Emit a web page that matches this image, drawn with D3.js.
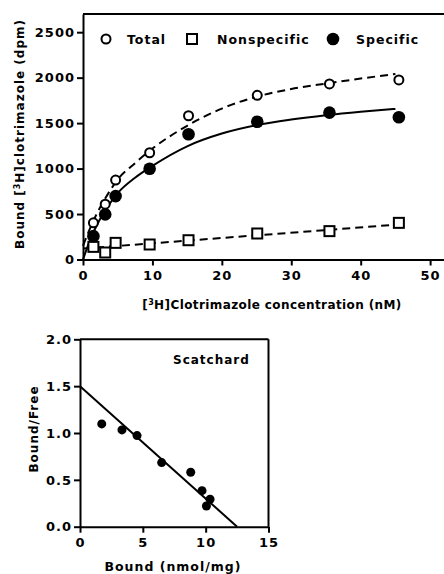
<!DOCTYPE html>
<html>
<head>
<meta charset="utf-8">
<script src="https://cdn.jsdelivr.net/npm/d3@7"></script>
<style>
  body { margin: 0; background: #fff; }
  text { font-family: 'DejaVu Sans', Verdana, sans-serif; font-weight: bold; letter-spacing: 1px; }
</style>
</head>
<body>
<div id="chart"></div>
<script>
// saturation binding data (x in nM, y in dpm)
const conc = [1.5, 3.2, 4.7, 9.6, 15.2, 25.1, 35.5, 45.5]
const total = [403, 609, 873, 1174, 1581, 1806, 1931, 1975]
const nonspecific = [139, 77, 183, 165, 212, 286, 312, 403]
const specific = [257, 496, 697, 998, 1377, 1515, 1615, 1564]

// fitted curves
const fitX = [0, 1, 2, 3, 4, 5, 7.5, 10, 15, 20, 25, 30, 35, 40, 45]
const totalFit = [150, 340, 505, 645, 770, 880, 1060, 1220, 1470, 1660, 1790, 1875, 1935, 1990, 2040]
const specificFit = [0, 210, 380, 515, 630, 730, 900, 1030, 1245, 1385, 1477, 1539, 1587, 1625, 1656]
const nsFitX = [0, 45.5]
const nsFit = [120, 385]

// scatchard
const bound = [1.73, 3.34, 4.54, 6.5, 8.81, 9.71, 10.35, 10.06]
const boundFree = [1.097, 1.033, 0.972, 0.684, 0.581, 0.385, 0.293, 0.221]
const scatLineX = [0, 12.5]
const scatLineY = [1.5, 0]

const xTicksTop = [0, 10, 20, 30, 40, 50]
const yTicksTop = [0, 500, 1000, 1500, 2000, 2500]
const xTicksBot = [0, 5, 10, 15]
const yTicksBot = [0, 0.5, 1.0, 1.5, 2.0]

const svg = d3.select('#chart').append('svg').attr('width', 444).attr('height', 574)

// ---------- top panel ----------
const x1 = d3.scaleLinear().domain([0, 52]).range([83, 444])
const y1 = d3.scaleLinear().domain([0, 2700]).range([259.5, 14])

function styleAxis(g) {
  g.attr('font-family', null)
  g.selectAll('path, line').attr('stroke', '#000').attr('stroke-width', 2)
  g.selectAll('text').attr('font-size', 13).attr('fill', '#000')
}

// frame top
svg.append('line').attr('x1', x1(0)).attr('x2', x1(52)).attr('y1', y1(2700)).attr('y2', y1(2700))
  .attr('stroke', '#000').attr('stroke-width', 2)

svg.append('g').attr('transform', `translate(0,${y1(0)})`)
  .call(d3.axisBottom(x1).tickValues(xTicksTop).tickSize(6).tickSizeOuter(0).tickPadding(5))
  .call(styleAxis)
svg.append('g').attr('transform', `translate(${x1(0)},0)`)
  .call(d3.axisLeft(y1).tickValues(yTicksTop).tickFormat(d3.format('d')).tickSize(6).tickSizeOuter(0).tickPadding(2))
  .call(styleAxis)

const line1 = d3.line().x((d) => x1(d[0])).y((d) => y1(d[1])).curve(d3.curveMonotoneX)

svg.append('path').attr('d', line1(fitX.map((v, i) => [v, totalFit[i]])))
  .attr('fill', 'none').attr('stroke', '#000').attr('stroke-width', 2).attr('stroke-dasharray', '8,5')
svg.append('path').attr('d', line1(fitX.map((v, i) => [v, specificFit[i]])))
  .attr('fill', 'none').attr('stroke', '#000').attr('stroke-width', 2)
svg.append('path').attr('d', line1(nsFitX.map((v, i) => [v, nsFit[i]])))
  .attr('fill', 'none').attr('stroke', '#000').attr('stroke-width', 2).attr('stroke-dasharray', '8,5')

// points
svg.selectAll('.ns').data(conc).join('rect').attr('class', 'ns')
  .attr('x', (d) => x1(d) - 5).attr('y', (d, i) => y1(nonspecific[i]) - 5)
  .attr('width', 10).attr('height', 10)
  .attr('fill', '#fff').attr('stroke', '#000').attr('stroke-width', 2)
svg.selectAll('.tot').data(conc).join('circle').attr('class', 'tot')
  .attr('cx', (d) => x1(d)).attr('cy', (d, i) => y1(total[i])).attr('r', 4.5)
  .attr('fill', '#fff').attr('stroke', '#000').attr('stroke-width', 2)
svg.selectAll('.spec').data(conc).join('circle').attr('class', 'spec')
  .attr('cx', (d) => x1(d)).attr('cy', (d, i) => y1(specific[i])).attr('r', 6.3)
  .attr('fill', '#000')

// legend
const leg = svg.append('g')
leg.append('circle').attr('cx', 106).attr('cy', 39).attr('r', 4.5)
  .attr('fill', '#fff').attr('stroke', '#000').attr('stroke-width', 2)
leg.append('text').attr('x', 127).attr('y', 43.5).attr('font-size', 12.5).text('Total')
leg.append('rect').attr('x', 187).attr('y', 34).attr('width', 10).attr('height', 10)
  .attr('fill', '#fff').attr('stroke', '#000').attr('stroke-width', 2)
leg.append('text').attr('x', 217).attr('y', 43.5).attr('font-size', 12.5).text('Nonspecific')
leg.append('circle').attr('cx', 333).attr('cy', 39).attr('r', 6.3).attr('fill', '#000')
leg.append('text').attr('x', 356).attr('y', 43.5).attr('font-size', 12.5).text('Specific')

// axis titles
const xt = svg.append('text').attr('x', 272).attr('y', 309).attr('text-anchor', 'middle')
  .attr('font-size', 12).style('letter-spacing', '0.4px')
xt.append('tspan').text('[')
xt.append('tspan').attr('font-size', 8).attr('dy', -4).text('3')
xt.append('tspan').attr('dy', 4).text('H]Clotrimazole concentration (nM)')

const yt = svg.append('text').attr('transform', 'translate(24,134) rotate(-90)')
  .attr('text-anchor', 'middle').attr('font-size', 12)
yt.append('tspan').text('Bound [')
yt.append('tspan').attr('font-size', 8).attr('dy', -4).text('3')
yt.append('tspan').attr('dy', 4).text('H]clotrimazole (dpm)')

// ---------- bottom panel (Scatchard) ----------
const x2 = d3.scaleLinear().domain([0, 15]).range([80, 268.5])
const y2 = d3.scaleLinear().domain([0, 2]).range([526.7, 339.3])

svg.append('line').attr('x1', x2(0)).attr('x2', x2(15)).attr('y1', y2(2)).attr('y2', y2(2))
  .attr('stroke', '#000').attr('stroke-width', 2)
svg.append('line').attr('x1', x2(15)).attr('x2', x2(15)).attr('y1', y2(2)).attr('y2', y2(0))
  .attr('stroke', '#000').attr('stroke-width', 2)

svg.append('g').attr('transform', `translate(0,${y2(0)})`)
  .call(d3.axisBottom(x2).tickValues(xTicksBot).tickSize(6).tickSizeOuter(0).tickPadding(5))
  .call(styleAxis)
svg.append('g').attr('transform', `translate(${x2(0)},0)`)
  .call(d3.axisLeft(y2).tickValues(yTicksBot).tickFormat(d3.format('.1f')).tickSize(6).tickSizeOuter(0).tickPadding(2))
  .call(styleAxis)

const line2 = d3.line().x((d) => x2(d[0])).y((d) => y2(d[1]))
svg.append('path').attr('d', line2(scatLineX.map((v, i) => [v, scatLineY[i]])))
  .attr('fill', 'none').attr('stroke', '#000').attr('stroke-width', 2)

svg.selectAll('.sc').data(bound).join('circle').attr('class', 'sc')
  .attr('cx', (d) => x2(d)).attr('cy', (d, i) => y2(boundFree[i])).attr('r', 4.5)
  .attr('fill', '#000')

svg.append('text').attr('x', 173).attr('y', 364).attr('font-size', 12).text('Scatchard')
svg.append('text').attr('x', 173).attr('y', 571).attr('text-anchor', 'middle').attr('font-size', 12.5).text('Bound (nmol/mg)')
svg.append('text').attr('transform', 'translate(38,429) rotate(-90)')
  .attr('text-anchor', 'middle').attr('font-size', 12).text('Bound/Free')
</script>
</body>
</html>
